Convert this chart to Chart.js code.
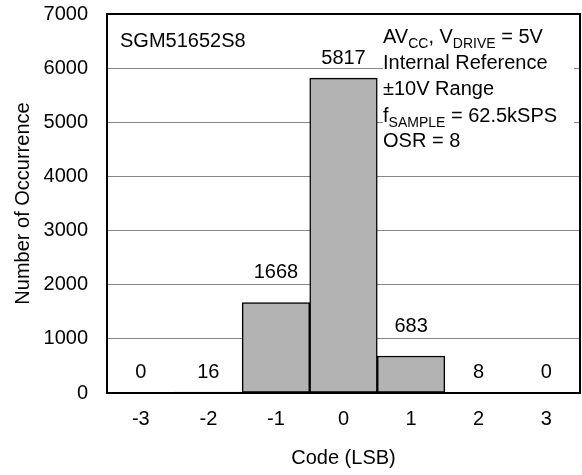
<!DOCTYPE html>
<html>
<head>
<meta charset="utf-8">
<script src="https://cdn.jsdelivr.net/npm/chart.js@4/dist/chart.umd.min.js"></script>
<style>
  html, body { margin: 0; padding: 0; background: #fff; }
  #wrap { width: 582px; height: 475px; position: relative; }
</style>
</head>
<body>
<div id="wrap"><canvas id="c" width="582" height="475"></canvas></div>
<script>
const categories = ['-3', '-2', '-1', '0', '1', '2', '3'];
const occurrences = [0, 16, 1668, 5817, 683, 8, 0];
const yTicks = [0, 1000, 2000, 3000, 4000, 5000, 6000, 7000];
const deviceLabel = 'SGM51652S8';
const conditionLines = [
  [['AV', 0], ['CC', 1], [', V', 0], ['DRIVE', 1], [' = 5V', 0]],
  [['Internal Reference', 0]],
  [['\u00B110V Range', 0]],
  [['f', 0], ['SAMPLE', 1], [' = 62.5kSPS', 0]],
  [['OSR = 8', 0]]
];

const FONT = "'Liberation Sans', Arial, sans-serif";

const annotationPlugin = {
  id: 'annot',
  beforeDatasetsDraw(chart) {
    const ctx = chart.ctx;
    ctx.save();
    ctx.fillStyle = '#ffffff';
    ctx.fillRect(383, 16, 574 - 383, 150 - 16);
    ctx.restore();
  },
  afterDatasetsDraw(chart) {
    const ctx = chart.ctx;
    const area = chart.chartArea;
    const ys = chart.scales.y;
    const meta = chart.getDatasetMeta(0);
    ctx.save();
    ctx.fillStyle = '#000';
    ctx.font = '20px ' + FONT;
    ctx.textAlign = 'center';
    ctx.textBaseline = 'middle';
    const base = ys.getPixelForValue(0);
    meta.data.forEach((bar, i) => {
      const v = occurrences[i];
      const top = ys.getPixelForValue(v);
      let y = (base - top < 10) ? base - 21 : top - 30;
      y = Math.max(y, area.top + 44);
      ctx.fillText(String(v), bar.x, y);
    });
    ctx.textAlign = 'left';
    ctx.textBaseline = 'alphabetic';
    ctx.fillText(deviceLabel, 120, 47);
    const baselines = [43, 69, 95, 122, 147];
    conditionLines.forEach((line, li) => {
      let x = 383;
      const by = baselines[li];
      line.forEach(([txt, sub]) => {
        if (sub) {
          ctx.font = '14px ' + FONT;
          ctx.fillText(txt, x, by + 5);
        } else {
          ctx.font = '20px ' + FONT;
          ctx.fillText(txt, x, by);
        }
        x += ctx.measureText(txt).width;
      });
    });
    ctx.strokeStyle = '#000';
    ctx.lineWidth = 2;
    ctx.strokeRect(area.left, area.top, area.right - area.left, area.bottom - area.top);
    ctx.restore();
  }
};

new Chart(document.getElementById('c'), {
  type: 'bar',
  data: {
    labels: categories,
    datasets: [{
      data: occurrences,
      backgroundColor: '#b3b3b3',
      borderColor: '#000000',
      borderWidth: 1.5,
      borderSkipped: false,
      barPercentage: 1,
      categoryPercentage: 1
    }]
  },
  options: {
    responsive: false,
    animation: false,
    devicePixelRatio: 1,
    layout: { padding: { top: 14, right: 2, bottom: 0, left: 0 } },
    plugins: { legend: { display: false }, tooltip: { enabled: false } },
    scales: {
      x: {
        grid: { display: false, drawTicks: false },
        border: { display: false },
        ticks: { color: '#000', font: { family: FONT, size: 20 }, padding: 14, maxRotation: 0 },
        title: { display: true, text: 'Code (LSB)', color: '#000', font: { family: FONT, size: 20 }, padding: { top: 0, bottom: 5 } },
        afterFit(scale) { scale.height = 82; scale.paddingLeft = 0; scale.paddingRight = 0; }
      },
      y: {
        min: 0,
        max: 7000,
        afterBuildTicks(scale) { scale.ticks = yTicks.map(v => ({ value: v })); },
        grid: { color: '#868686', lineWidth: 1, drawTicks: false },
        border: { display: false },
        ticks: { color: '#000', font: { family: FONT, size: 20 }, padding: 19, callback: (v) => String(v) },
        title: { display: true, text: 'Number of Occurrence', color: '#000', font: { family: FONT, size: 20 }, padding: { top: 11, bottom: 0 } },
        afterFit(scale) { scale.width = 107; scale.paddingTop = 0; scale.paddingBottom = 0; }
      }
    }
  },
  plugins: [annotationPlugin]
});
</script>
</body>
</html>
